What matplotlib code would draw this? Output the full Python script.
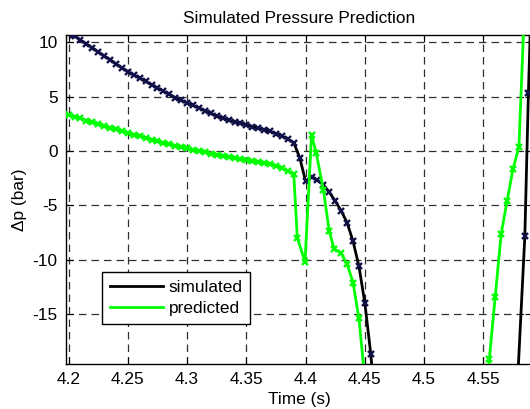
import numpy as np
import matplotlib
matplotlib.use("Agg")
import matplotlib.pyplot as plt
from matplotlib.lines import Line2D

# simulated pressure difference (bar)
t_sim = [4.2035, 4.205, 4.210, 4.215, 4.220, 4.225, 4.230, 4.235, 4.240, 4.245,
         4.250, 4.255, 4.260, 4.265, 4.270, 4.275, 4.280, 4.285, 4.290, 4.295,
         4.300, 4.305, 4.310, 4.315, 4.320, 4.325, 4.330, 4.335, 4.340, 4.345,
         4.350, 4.355, 4.360, 4.365, 4.370, 4.375, 4.380, 4.385, 4.390, 4.395,
         4.400, 4.405, 4.410, 4.415, 4.420, 4.425, 4.430, 4.435, 4.440, 4.445,
         4.450, 4.455, 4.460,
         np.nan,
         4.5785, 4.585, 4.588, 4.592]
p_sim = [10.7, 10.6, 10.2, 9.85, 9.5, 9.1, 8.75, 8.4, 8.0, 7.65,
         7.3, 7.0, 6.7, 6.4, 6.1, 5.8, 5.5, 5.2, 4.9, 4.65,
         4.4, 4.2, 3.95, 3.7, 3.45, 3.2, 3.0, 2.85, 2.7, 2.55,
         2.4, 2.25, 2.1, 1.95, 1.8, 1.6, 1.35, 1.1, 0.75, -0.6,
         -2.8, -2.4, -2.7, -3.1, -3.8, -4.6, -5.5, -6.6, -8.3, -10.6,
         -14.0, -18.7, -25.0,
         np.nan,
         -22.0, -7.8, 5.3, 20.0]

# predicted pressure difference (bar)
t_pred = [4.195, 4.200, 4.205, 4.210, 4.215, 4.220, 4.225, 4.230, 4.235, 4.240,
          4.245, 4.250, 4.255, 4.260, 4.265, 4.270, 4.275, 4.280, 4.285, 4.290,
          4.295, 4.300, 4.305, 4.310, 4.315, 4.320, 4.325, 4.330, 4.335, 4.340,
          4.345, 4.350, 4.355, 4.360, 4.365, 4.370, 4.375, 4.380, 4.385, 4.390,
          4.393, 4.3995, 4.405, 4.409, 4.415, 4.420, 4.424, 4.430, 4.435, 4.440,
          4.445, 4.450,
          np.nan,
          4.550, 4.555, 4.560, 4.565, 4.570, 4.575, 4.580, 4.585]
p_pred = [3.45, 3.3, 3.15, 3.0, 2.8, 2.65, 2.5, 2.3, 2.15, 2.0,
          1.8, 1.63, 1.5, 1.35, 1.2, 1.05, 0.9, 0.75, 0.6, 0.5,
          0.38, 0.25, 0.12, 0.0, -0.12, -0.25, -0.35, -0.45, -0.55, -0.65,
          -0.75, -0.85, -0.95, -1.0, -1.1, -1.2, -1.35, -1.55, -1.85, -2.15,
          -8.0, -10.2, 1.5, -0.2, -3.6, -7.4, -9.0, -9.4, -10.4, -12.1,
          -15.4, -21.0,
          np.nan,
          -25.0, -19.15, -13.4, -7.66, -4.6, -1.66, 0.4, 14.0]

x_ticks = [4.2, 4.25, 4.3, 4.35, 4.4, 4.45, 4.5, 4.55]
x_labels = ["4.2", "4.25", "4.3", "4.35", "4.4", "4.45", "4.5", "4.55"]
y_ticks = [-15, -10, -5, 0, 5, 10]

GREEN = "#00ff00"
FS = 12.4

plt.rcParams["font.family"] = ["Liberation Sans", "DejaVu Sans"]
plt.rcParams["axes.unicode_minus"] = False

fig = plt.figure(figsize=(5.30, 4.09), dpi=100)
ax = fig.add_axes([0.1243, 0.111, 0.8794, 0.8034])

ax.plot(t_sim, p_sim, color="k", lw=2.0, marker="x", ms=4.6, mew=1.7,
        mec="#10104a", zorder=3)
ax.plot(t_pred, p_pred, color=GREEN, lw=2.0, marker="x", ms=4.6, mew=1.7,
        mec=GREEN, zorder=3)

ax.set_xlim(4.1977, 4.591)
ax.set_ylim(-19.56, 10.67)
ax.set_xticks(x_ticks)
ax.set_xticklabels(x_labels)
ax.set_yticks(y_ticks)

ax.grid(True, color="#303030", lw=0.9, dashes=(6, 4))
ax.tick_params(direction="in", length=5, top=True, right=True,
               labelsize=FS, pad=6, width=0.8)
for s in ax.spines.values():
    s.set_linewidth(1.0)

ax.set_title("Simulated Pressure Prediction", fontsize=FS, pad=9)
ax.set_xlabel("Time (s)", fontsize=FS, labelpad=4)
ax.set_ylabel("\u0394p (bar)", fontsize=FS, labelpad=4)

handles = [Line2D([], [], color="k", lw=2.0),
           Line2D([], [], color=GREEN, lw=2.0)]
leg = ax.legend(handles, ["simulated", "predicted"], loc="lower left",
                bbox_to_anchor=(0.078, 0.1205), borderaxespad=0,
                fancybox=False, edgecolor="k", framealpha=1,
                fontsize=FS, handlelength=3.1, handletextpad=0.3,
                borderpad=0.45, labelspacing=0.35)
leg.get_frame().set_linewidth(1.0)

fig.savefig("out.png", dpi=100)
